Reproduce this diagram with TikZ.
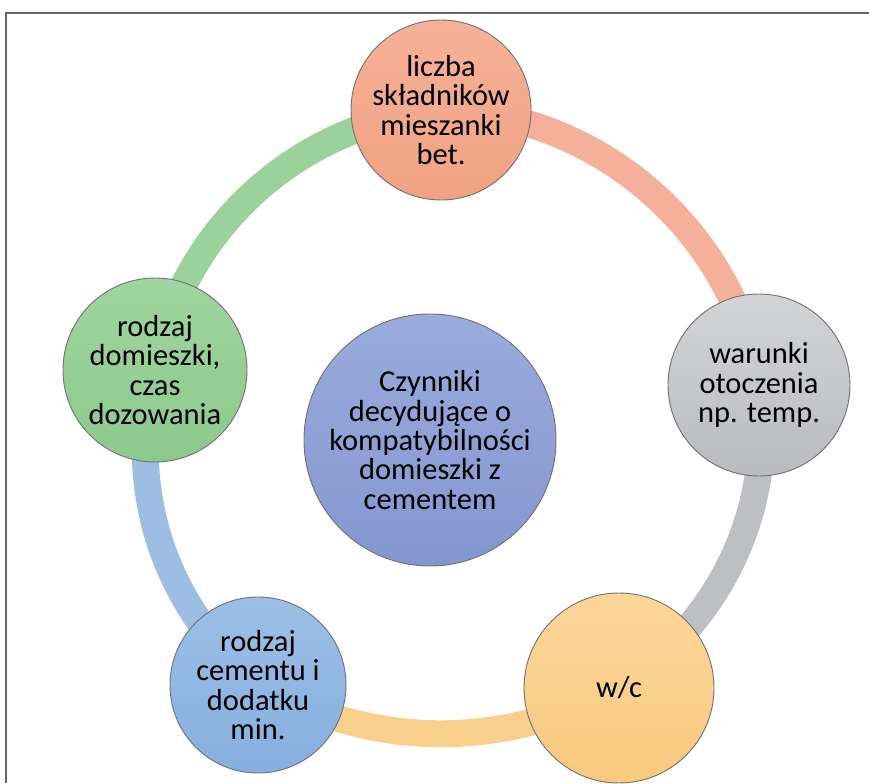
\documentclass[tikz,border=0pt]{standalone}
\usepackage{fontspec}
\setmainfont{Carlito}
\usetikzlibrary{backgrounds}

% circle fills (top / bottom of the gentle gradient)
\definecolor{salmonA}{HTML}{F5B198}
\definecolor{salmonB}{HTML}{F1A283}
\definecolor{greyA}{HTML}{D3D4D6}
\definecolor{greyB}{HTML}{BABBBE}
\definecolor{sandA}{HTML}{FCD79A}
\definecolor{sandB}{HTML}{F8C97E}
\definecolor{skyA}{HTML}{9DBFE6}
\definecolor{skyB}{HTML}{86AEDF}
\definecolor{leafA}{HTML}{A0D59E}
\definecolor{leafB}{HTML}{8CC98C}
\definecolor{slateA}{HTML}{9AACDC}
\definecolor{slateB}{HTML}{8496CF}
% ring colours
\definecolor{ringSalmon}{HTML}{F4B09A}
\definecolor{ringGrey}{HTML}{BEBFC2}
\definecolor{ringSand}{HTML}{F9CF8C}
\definecolor{ringSky}{HTML}{9DBDE3}
\definecolor{ringLeaf}{HTML}{9BD19B}

\begin{document}
\begin{tikzpicture}[x=0.03cm, y=0.03cm,
  every node/.style={font=\fontsize{26}{25}\selectfont, align=center},
  bubble/.style={circle, draw=black!55, line width=0.8pt, inner sep=0pt},
  ringarc/.style={line width=23pt, looseness=0.95}]
  \useasboundingbox (0,0) rectangle (869,783);

  % --- frame (top and left edges only)
  \draw[black!60, line width=1.2pt] (6,0) -- (6,770) -- (869,770);

  % --- centre circle
  \node[bubble, minimum size=7.56cm, top color=slateA, bottom color=slateB]
    (centre) at (430,343)
    {Czynniki\\decydujące o\\kompatybilności\\domieszki z\\cementem};

  % --- outer circles, clockwise from the top
  \node[bubble, minimum size=5.4cm, top color=salmonA, bottom color=salmonB]
    (liczba) at (441,673) {liczba\\składników\\mieszanki\\bet.};
  \node[bubble, minimum size=5.46cm, top color=greyA, bottom color=greyB]
    (warunki) at (759,398) {warunki\\otoczenia\\np. temp.};
  \node[bubble, minimum size=5.7cm, top color=sandA, bottom color=sandB]
    (wc) at (619,95) {w/c};
  \node[bubble, minimum size=5.28cm, top color=skyA, bottom color=skyB]
    (cement) at (258,98) {rodzaj\\cementu i\\dodatku\\min.};
  \node[bubble, minimum size=5.52cm, top color=leafA, bottom color=leafB]
    (domieszka) at (155,413) {rodzaj\\domieszki,\\czas\\dozowania};

  % --- ring pieces, centre to centre, hidden under the circles
  \begin{scope}[on background layer]
    \draw[ringarc, ringSalmon] (liczba.center) to[bend left=40] (warunki.center);
    \draw[ringarc, ringGrey] (warunki.center) to[bend left=32] (wc.center);
    \draw[ringarc, ringSand] (wc.center) to[bend left=28] (cement.center);
    \draw[ringarc, ringSky] (cement.center) to[bend left=32] (domieszka.center);
    \draw[ringarc, ringLeaf] (domieszka.center) to[bend left=37] (liczba.center);
  \end{scope}
\end{tikzpicture}
\end{document}
